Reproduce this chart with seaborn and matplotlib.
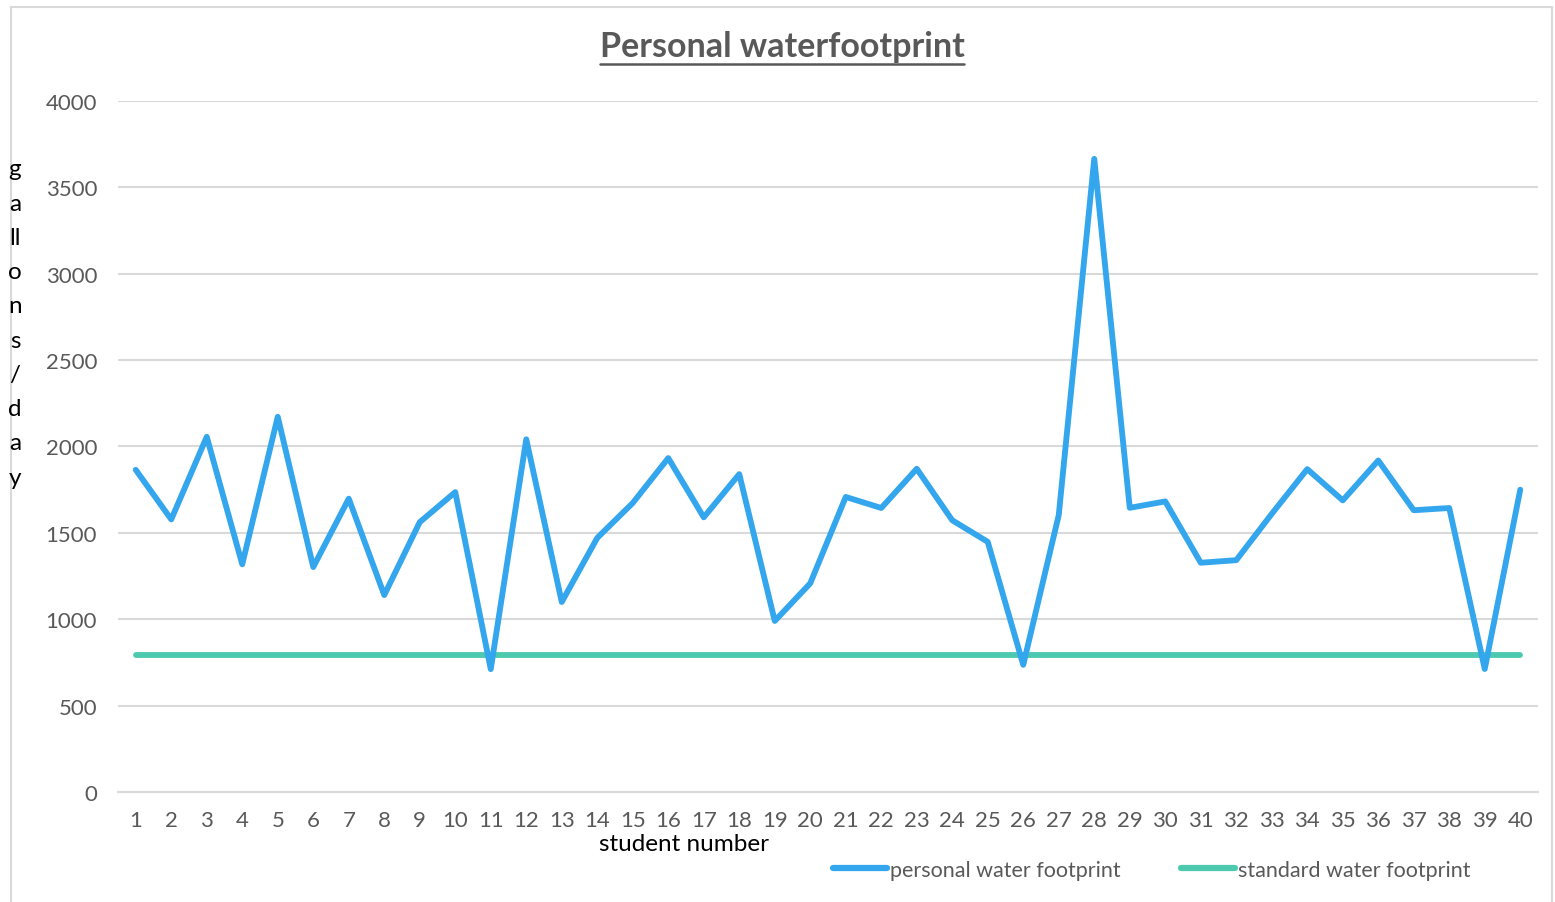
import matplotlib
matplotlib.use("Agg")
import matplotlib.pyplot as plt
import seaborn as sns
import pandas as pd
from matplotlib.lines import Line2D
from matplotlib.patches import Rectangle

students = list(range(1, 41))
personal = [1865, 1578, 2056, 1318, 2172, 1302, 1698, 1140, 1562, 1736,
            711, 2042, 1100, 1471, 1673, 1933, 1590, 1840, 990, 1208,
            1708, 1644, 1871, 1573, 1448, 736, 1603, 3665, 1645, 1682,
            1327, 1342, 1610, 1869, 1688, 1919, 1631, 1644, 712, 1750]
standard = [793] * 40
series_names = ["personal water footprint", "standard water footprint"]
y_ticks = [0, 500, 1000, 1500, 2000, 2500, 3000, 3500, 4000]
title = "Personal waterfootprint"
x_label = "student number"
y_label_letters = ["g", "a", "ll", "o", "n", "s", "/", "d", "a", "y"]

colors = {series_names[0]: "#33A6EE", series_names[1]: "#4DC9B0"}

df = pd.DataFrame({
    "student": students * 2,
    "gallons": personal + standard,
    "series": [series_names[0]] * len(students) + [series_names[1]] * len(students),
})

sns.set_theme(style="white")
plt.rcParams["font.family"] = ["Lato", "DejaVu Sans"]

W, H = 1555, 903
fig = plt.figure(figsize=(W / 100, H / 100), dpi=100)
ax = fig.add_axes([118 / W, 1 - 793 / H, 1420 / W, 691 / H])

sns.lineplot(data=df, x="student", y="gallons", hue="series", palette=colors,
             linewidth=4.2, ax=ax, legend=False, sort=False,
             solid_capstyle="round", solid_joinstyle="round")
for line in ax.get_lines():
    if line.get_color().lower() == "#4dc9b0":
        line.set_zorder(2)
    else:
        line.set_zorder(3)

ax.set_xlim(0.5, 40.5)
ax.set_ylim(0, 4000)
ax.set_yticks(y_ticks)
ax.set_yticklabels([str(v) for v in y_ticks])
ax.set_xticks(students)
ax.set_xticklabels([str(s) for s in students])
ax.yaxis.grid(True, color="#D9D9D9", linewidth=1.5)
ax.set_axisbelow(True)
for s in ["top", "right", "left"]:
    ax.spines[s].set_visible(False)
ax.spines["bottom"].set_color("#D9D9D9")
ax.spines["bottom"].set_linewidth(1.5)
ax.tick_params(axis="both", length=0, colors="#595959", labelsize=16)
ax.tick_params(axis="y", pad=15)
ax.tick_params(axis="x", pad=13)
ax.set_xlabel("")
ax.set_ylabel("")

# title with underline
t = fig.text(782 / W, 1 - 47 / H, title, ha="center", va="center",
             fontsize=24.5, fontweight="bold", color="#595959")
fig.canvas.draw()
bb = t.get_window_extent(fig.canvas.get_renderer())
fig.add_artist(Line2D([bb.x0 / W, bb.x1 / W], [1 - 65 / H, 1 - 65 / H],
                      color="#595959", linewidth=1.8, transform=fig.transFigure))

# axis labels
fig.text(684 / W, 1 - 845 / H, x_label, ha="center", va="center",
         fontsize=17.5, color="black")
fig.text(15 / W, 1 - 324 / H, "\n".join(y_label_letters), ha="center", va="center",
         fontsize=17.5, color="black", linespacing=1.78)

# legend
handles = [Line2D([], [], color=colors[n], linewidth=4.5, solid_capstyle="round")
           for n in series_names]
fig.legend(handles, series_names, loc="center", bbox_to_anchor=(1152 / W, 1 - 871 / H),
           ncol=2, frameon=False, fontsize=15.5, labelcolor="#595959",
           handlelength=2.5, handletextpad=0.15, columnspacing=2.8)

# outer border
fig.add_artist(Rectangle((11 / W, -0.05), (1552 - 11) / W, 1 - 8 / H + 0.05,
                         transform=fig.transFigure, fill=False,
                         edgecolor="#D9D9D9", linewidth=1.5))

fig.savefig("out.png", dpi=100)
